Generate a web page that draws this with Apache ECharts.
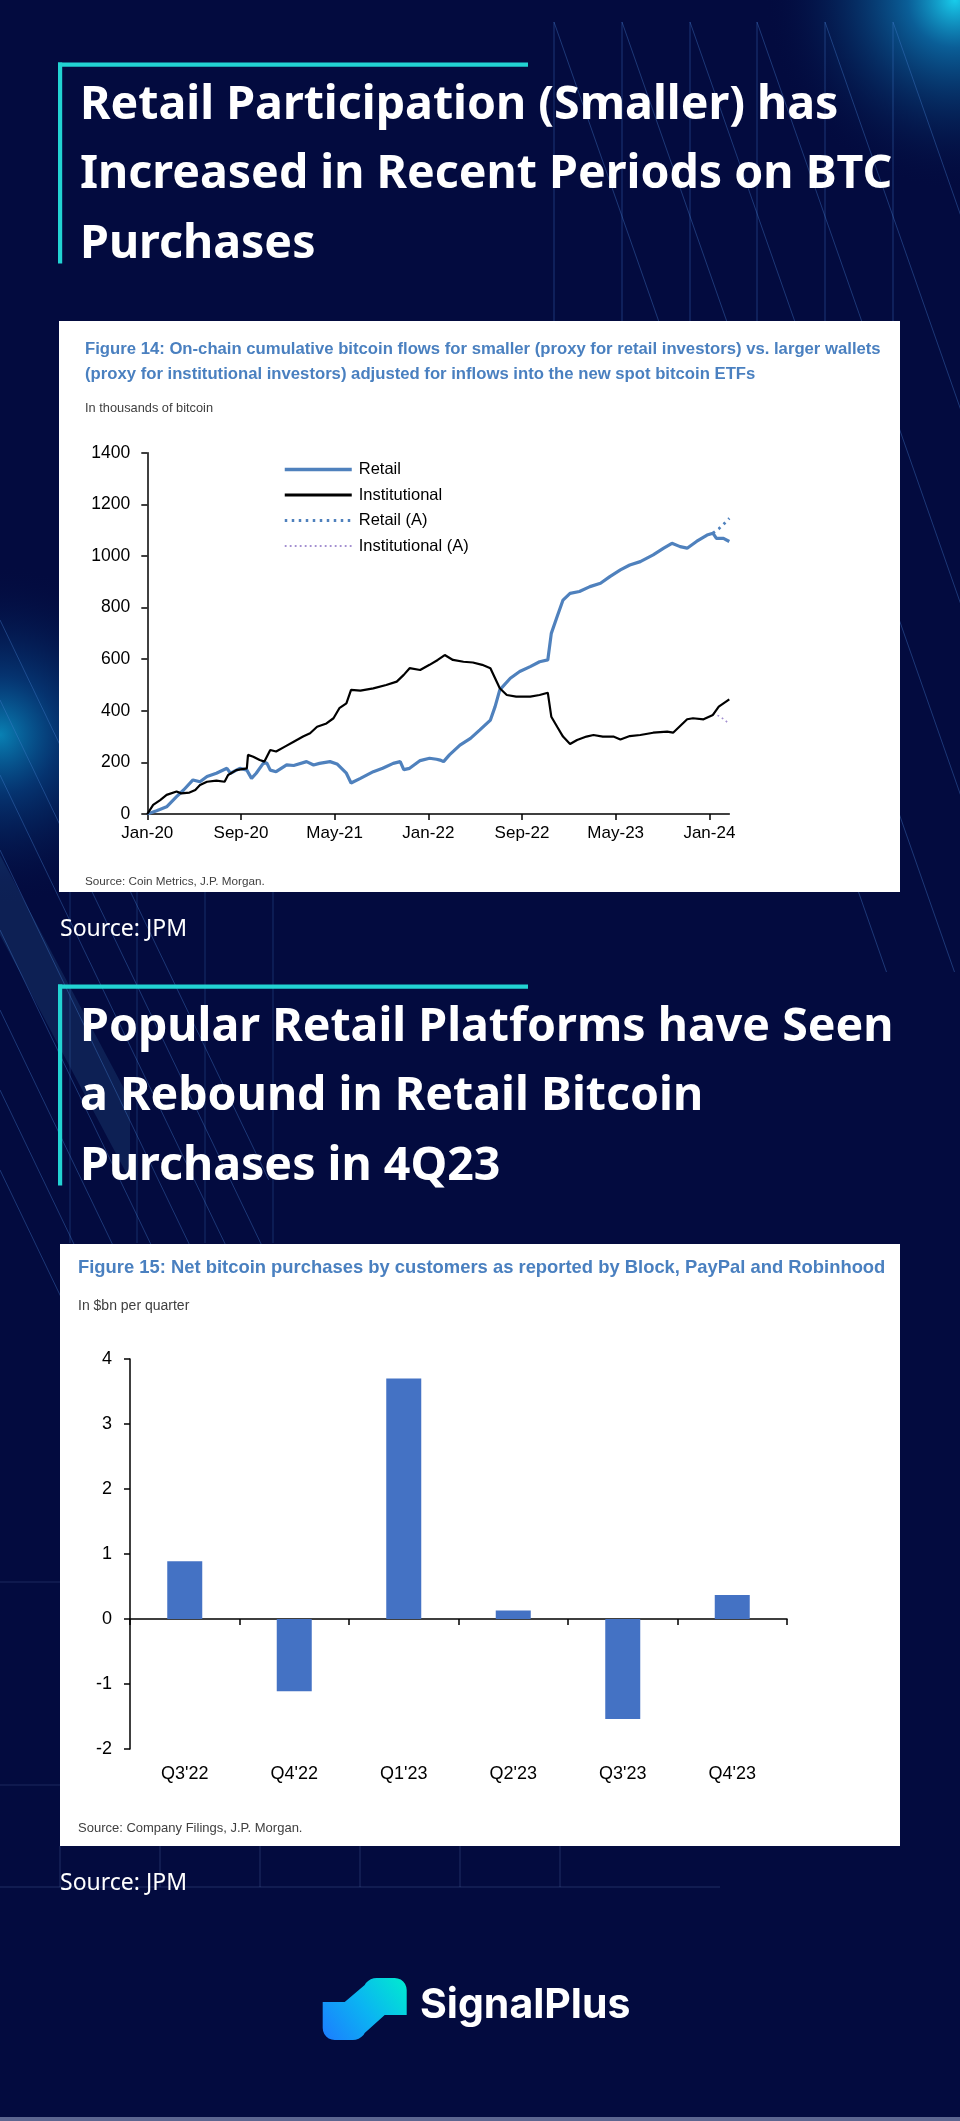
<!DOCTYPE html>
<html><head><meta charset="utf-8">
<script src="https://cdn.jsdelivr.net/npm/echarts@6/dist/echarts.min.js"></script>
<style>html,body{margin:0;padding:0;background:#030b3f;}#c{width:960px;height:2121px;}</style>
</head><body><div id="c"></div>
<script>
// ---------- Chart 1 data (months since Jan-2020, thousands of BTC) ----------
const xTickMonths = [0, 8, 16, 24, 32, 40, 48];
const xTickLabels = ['Jan-20', 'Sep-20', 'May-21', 'Jan-22', 'Sep-22', 'May-23', 'Jan-24'];

const retailMonths = [0,0.8,1.65,2.5,3.1,3.9,4.5,5.1,5.9,6.8,7.1,7.9,8.5,8.9,9.3,9.9,10.2,10.5,11.0,11.9,12.5,13.6,14.2,14.7,15.6,16.2,17.0,17.4,18.2,19.3,20.1,21.0,21.6,21.9,22.4,23.3,24.1,24.7,25.0,25.3,25.8,26.7,27.6,28.4,29.3,29.7,30.1,31.0,31.8,32.7,33.5,34.2,34.5,35.0,35.5,36.1,36.9,37.8,38.7,39.5,40.4,41.2,42.1,43.2,44.1,44.8,45.5,46.1,46.9,47.8,48.3,48.6,49.2,49.7];
const retailValues = [0,13,28,67,93,132,125,145,158,177,158,177,170,138,158,196,198,170,164,190,188,203,190,196,203,194,158,120,138,164,177,196,203,172,177,207,216,212,209,203,229,267,293,326,364,416,481,526,552,571,590,597,700,765,829,855,862,881,894,920,946,965,978,1004,1030,1049,1036,1030,1056,1081,1088,1068,1068,1056];

const instMonths = [0,0.5,1.1,1.65,2.5,2.6,2.9,3.6,4.1,4.5,5.1,5.9,6.6,6.9,7.6,8.5,8.6,9.05,9.6,10.0,10.5,11.0,11.75,12.5,13.3,13.9,14.5,15.3,15.9,16.4,17.0,17.4,18.2,19.3,20.4,21.3,21.9,22.4,23.3,24.1,24.8,25.4,26.1,27.0,27.8,28.6,29.3,29.7,30.1,30.7,31.5,32.7,33.5,34.2,34.5,35.0,35.5,36.1,36.7,37.5,38.1,38.9,39.8,40.4,41.2,42.1,43.2,44.4,44.9,45.5,46.1,46.6,47.5,48.3,48.8,49.7];
const instValues = [0,35,54,74,87,93,80,83,93,112,125,129,125,151,170,177,229,222,209,203,248,242,261,280,300,313,338,351,371,410,429,481,478,487,500,513,539,565,558,578,597,616,597,590,587,578,565,526,487,461,455,455,461,470,377,338,300,271,287,300,306,300,300,289,302,306,315,319,315,341,367,371,367,384,416,444];

const retailAMonths = [48.3, 48.8, 49.2, 49.7];
const retailAValues = [1088, 1105, 1122, 1146];
const instAMonths = [48.3, 48.8, 49.2, 49.7];
const instAValues = [390, 380, 368, 349];

// ---------- Chart 2 data ($bn per quarter) ----------
const quarters = ["Q3'22", "Q4'22", "Q1'23", "Q2'23", "Q3'23", "Q4'23"];
const netPurchases = [0.89, -1.11, 3.70, 0.13, -1.54, 0.37];

const zip = (a, b) => a.map((v, i) => [v, b[i]]);

const BG = '#030b3f';
const CYAN = '#22d3d3';
const FIGBLUE = '#4a80c0';
const SANS = '"Liberation Sans", Arial, sans-serif';
const RETAIL_C = '#4f81bd', INST_C = '#000000', INSTA_C = '#a38fd0';

// ---------- decorative background ----------
const deco = [];
const lineCol = 'rgba(70,130,210,0.38)';
deco.push({type:'circle', shape:{cx:955, cy:0, r:190}, style:{fill:{type:'radial', x:0.5, y:0.5, r:0.5, colorStops:[
  {offset:0, color:'rgba(25,205,235,1)'}, {offset:0.25, color:'rgba(15,150,210,0.6)'}, {offset:1, color:'rgba(3,11,63,0)'}]}}, silent:true});
deco.push({type:'circle', shape:{cx:0, cy:735, r:170}, style:{fill:{type:'radial', x:0.5, y:0.5, r:0.5, colorStops:[
  {offset:0, color:'rgba(10,150,200,0.85)'}, {offset:0.35, color:'rgba(8,100,170,0.45)'}, {offset:1, color:'rgba(3,11,63,0)'}]}}, silent:true});
[554, 622, 690, 757, 825, 893].forEach(x => {
  deco.push({type:'line', shape:{x1:x, y1:22, x2:x, y2:330}, style:{stroke:lineCol, lineWidth:1}, silent:true});
  deco.push({type:'line', shape:{x1:x, y1:22, x2:x + 0.35*950, y2:972}, style:{stroke:lineCol, lineWidth:1}, silent:true});
});
deco.push({type:'polygon', shape:{points:[[0,855],[0,935],[130,1180],[130,1100]]}, style:{fill:'rgba(70,140,200,0.16)'}, silent:true});
[620, 700, 775, 850, 930, 1010, 1090, 1170].forEach(y0 => {
  deco.push({type:'line', shape:{x1:0, y1:y0, x2:0.48*560, y2:y0 + 560}, style:{stroke:lineCol, lineWidth:1}, silent:true});
});
[70, 137, 205, 273].forEach(x => {
  deco.push({type:'line', shape:{x1:x, y1:892, x2:x, y2:1243}, style:{stroke:'rgba(70,130,210,0.3)', lineWidth:1}, silent:true});
});
[60, 160, 260, 360, 460, 560].forEach(x => {
  deco.push({type:'line', shape:{x1:x, y1:1846, x2:x, y2:1887}, style:{stroke:'rgba(90,110,170,0.35)', lineWidth:1}, silent:true});
});
deco.push({type:'line', shape:{x1:0, y1:1887, x2:720, y2:1887}, style:{stroke:'rgba(90,110,170,0.35)', lineWidth:1}, silent:true});
deco.push({type:'line', shape:{x1:0, y1:1582, x2:60, y2:1582}, style:{stroke:'rgba(90,110,170,0.3)', lineWidth:1}, silent:true});
deco.push({type:'line', shape:{x1:0, y1:1785, x2:60, y2:1785}, style:{stroke:'rgba(90,110,170,0.3)', lineWidth:1}, silent:true});
deco.push({type:'rect', shape:{x:0, y:2117, width:960, height:4}, style:{fill:'#5c6690'}, silent:true});

// ---------- cyan frames + headings ----------
const heading = (lines, y0, centers) => {
  const els = [];
  els.push({type:'rect', shape:{x:58, y:y0, width:470, height:4.2}, style:{fill:CYAN}});
  els.push({type:'rect', shape:{x:58, y:y0, width:4.2, height:201}, style:{fill:CYAN}});
  lines.forEach((t, i) => els.push({type:'text', x:80, y:centers[i], style:{text:t, fill:'#ffffff',
    fontFamily:'"Noto Sans", sans-serif', fontWeight:'bold', fontSize:46.5, align:'left', verticalAlign:'middle'}}));
  return els;
};
const txt = (t, x, y, size, color, weight, family) => ({type:'text', x, y, style:{text:t, fill:color,
  fontFamily: family || SANS, fontWeight: weight || 'normal', fontSize:size, align:'left', verticalAlign:'middle'}});

// ---------- logo ----------
const logoPts = (() => {
  const pts = [];
  const ox = 322.7, oy = 1978;
  const arc = (cx, cy, r, a0, a1, n) => { for (let k = 0; k <= n; k++) { const a = a0 + (a1 - a0) * k / n; pts.push([ox + cx + r*Math.cos(a), oy + cy + r*Math.sin(a)]); } };
  pts.push([ox+0, oy+24]); pts.push([ox+22, oy+24]); pts.push([ox+42, oy+7]);
  arc(54, 14, 14, -Math.PI*0.78, -Math.PI/2, 4);
  arc(72, 12, 12, -Math.PI/2, 0, 6);
  pts.push([ox+84, oy+37]); pts.push([ox+62, oy+37]); pts.push([ox+42, oy+55]);
  arc(30, 48, 14, Math.PI*0.22, Math.PI/2, 4);
  arc(12, 50, 12, Math.PI/2, Math.PI, 6);
  return pts;
})();

const graphics = [].concat(
  deco,
  heading(['Retail Participation (Smaller) has', 'Increased in Recent Periods on BTC', 'Purchases'], 62.5, [106, 175, 245]),
  heading(['Popular Retail Platforms have Seen', 'a Rebound in Retail Bitcoin', 'Purchases in 4Q23'], 984.5, [1028, 1097, 1167]),
  [
    {type:'rect', shape:{x:59, y:321, width:841, height:571}, style:{fill:'#ffffff'}},
    {type:'rect', shape:{x:60, y:1244, width:840, height:602}, style:{fill:'#ffffff'}},
    txt('Figure 14: On-chain cumulative bitcoin flows for smaller (proxy for retail investors) vs. larger wallets', 85, 349, 16.7, FIGBLUE, 'bold'),
    txt('(proxy for institutional investors) adjusted for inflows into the new spot bitcoin ETFs', 85, 374, 16.7, FIGBLUE, 'bold'),
    txt('In thousands of bitcoin', 85, 408, 12.8, '#404040'),
    txt('Source: Coin Metrics, J.P. Morgan.', 85, 882, 11.7, '#404040'),
    txt('Figure 15: Net bitcoin purchases by customers as reported by Block, PayPal and Robinhood', 78, 1268, 18.4, FIGBLUE, 'bold'),
    txt('In $bn per quarter', 78, 1306, 14, '#404040'),
    txt('Source: Company Filings, J.P. Morgan.', 78, 1828, 13, '#404040'),
    txt('Source: JPM', 60, 929, 23, '#ffffff', 'normal', '"Noto Sans", sans-serif'),
    txt('Source: JPM', 60, 1883, 23, '#ffffff', 'normal', '"Noto Sans", sans-serif'),
    {type:'polygon', shape:{points:logoPts}, style:{fill:{type:'linear', x:0, y:1, x2:1, y2:0, colorStops:[
      {offset:0, color:'#1c7cff'}, {offset:0.5, color:'#0bb4f2'}, {offset:1, color:'#00eccf'}]}}},
    txt('SignalPlus', 420, 2006, 41, '#ffffff', 'bold', 'Inter, "Noto Sans", sans-serif')
  ]
);

const chart = echarts.init(document.getElementById('c'), null, {renderer:'canvas'});
const axisBlack = {show:true, lineStyle:{color:'#000', width:1.5}};
chart.setOption({
  backgroundColor: BG,
  animation: false,
  graphic: graphics,
  legend: {
    left: 283, top: 461, orient: 'vertical', itemWidth: 67, itemHeight: 14, itemGap: 8.5,
    data: [
      {name:'Retail', lineStyle:{width:3.5, color:RETAIL_C, type:'solid'}},
      {name:'Institutional', lineStyle:{width:2.8, color:INST_C, type:'solid'}},
      {name:'Retail (A)', lineStyle:{width:3, color:RETAIL_C, type:[2.5, 4.5]}},
      {name:'Institutional (A)', lineStyle:{width:1.8, color:INSTA_C, type:[1.8, 3.2]}}
    ],
    itemStyle: {opacity: 0},
    textStyle: {fontFamily: SANS, fontSize: 16.5, color: '#000', padding: [0, 0, 0, 2]},
    selectedMode: false, padding: 0
  },
  grid: [
    {left: 147.3, top: 452.7, width: 582, height: 361.3},
    {left: 130, top: 1359, width: 657, height: 390}
  ],
  xAxis: [
    {type:'value', gridIndex:0, min:0, max:49.7, interval:8, axisLine:axisBlack,
      axisTick:{show:true, length:6, customValues:xTickMonths, lineStyle:{color:'#000', width:1.5}},
      axisLabel:{customValues:xTickMonths, formatter:v => xTickLabels[xTickMonths.indexOf(v)] || '', fontFamily:SANS, fontSize:17, color:'#000', margin:11},
      splitLine:{show:false}},
    {type:'category', gridIndex:1, data:quarters, axisLine:{show:true, onZero:true, lineStyle:{color:'#000', width:1.5}},
      axisTick:{show:true, length:6, lineStyle:{color:'#000', width:1.5}}, axisLabel:{show:false}},
    {type:'category', gridIndex:1, data:quarters, position:'bottom', axisLine:{show:false, onZero:false}, axisTick:{show:false},
      axisLabel:{fontFamily:SANS, fontSize:18, color:'#000', margin:16}}
  ],
  yAxis: [
    {type:'value', gridIndex:0, min:0, max:1400, interval:200, axisLine:axisBlack,
      axisTick:{show:true, length:6, lineStyle:{color:'#000', width:1.5}},
      axisLabel:{formatter: v => String(v), fontFamily:SANS, fontSize:17.5, color:'#000', margin:17}, splitLine:{show:false}},
    {type:'value', gridIndex:1, min:-2, max:4, interval:1, axisLine:axisBlack,
      axisTick:{show:true, length:6, lineStyle:{color:'#000', width:1.5}},
      axisLabel:{formatter: v => String(v), fontFamily:SANS, fontSize:18, color:'#000', margin:18}, splitLine:{show:false}}
  ],
  series: [
    {name:'Retail', type:'line', xAxisIndex:0, yAxisIndex:0, data:zip(retailMonths, retailValues), symbol:'none', showSymbol:false,
      lineStyle:{color:RETAIL_C, width:3.2}, itemStyle:{color:RETAIL_C}, z:4},
    {name:'Institutional', type:'line', xAxisIndex:0, yAxisIndex:0, data:zip(instMonths, instValues), symbol:'none', showSymbol:false,
      lineStyle:{color:INST_C, width:2.2}, itemStyle:{color:INST_C}, z:5},
    {name:'Retail (A)', type:'line', xAxisIndex:0, yAxisIndex:0, data:zip(retailAMonths, retailAValues), symbol:'none', showSymbol:false,
      lineStyle:{color:RETAIL_C, width:2.8, type:[2.5, 4.5]}, itemStyle:{color:RETAIL_C}, z:3},
    {name:'Institutional (A)', type:'line', xAxisIndex:0, yAxisIndex:0, data:zip(instAMonths, instAValues), symbol:'none', showSymbol:false,
      lineStyle:{color:INSTA_C, width:1.6, type:[1.8, 3.2]}, itemStyle:{color:INSTA_C}, z:3},
    {name:'Net purchases', type:'bar', xAxisIndex:1, yAxisIndex:1, data:netPurchases, barWidth:35,
      itemStyle:{color:'#4472c4'}}
  ]
});
</script></body></html>
